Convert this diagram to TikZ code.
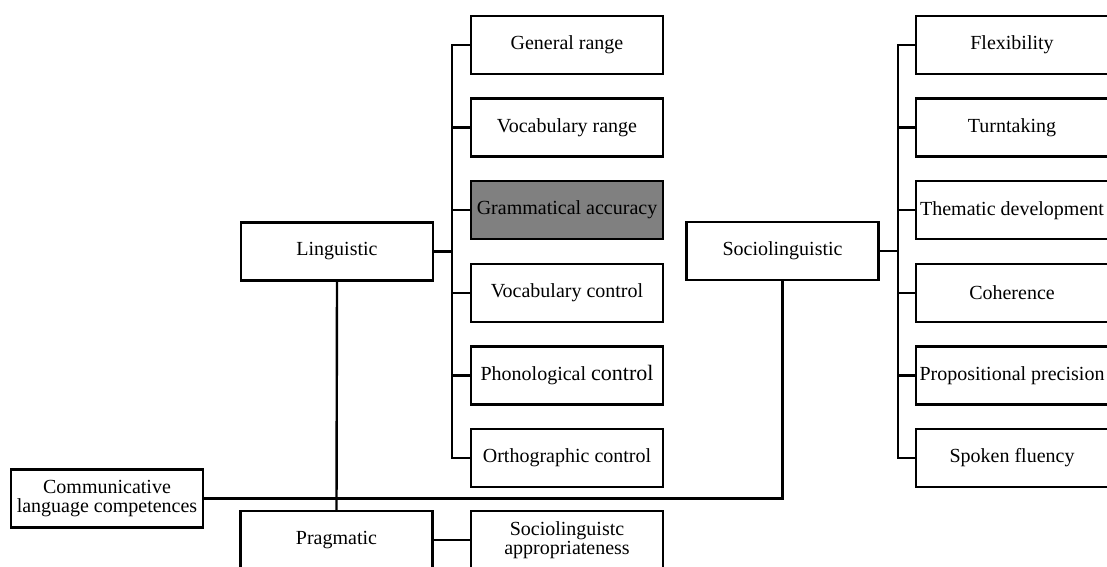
\documentclass[tikz,border=0pt]{standalone}
\usepackage{fontspec}
\setmainfont{Liberation Serif}
\definecolor{accgray}{RGB}{128,128,128}

\begin{document}
\begin{tikzpicture}[x=1pt,y=-1pt,line width=2.4pt,
  box/.style={draw,minimum width=192pt,minimum height=58pt,inner sep=0pt,align=center,
    font=\fontsize{20}{19}\selectfont}]
\useasboundingbox (0,0) rectangle (1107,566);
\clip (0,0) rectangle (1107,566);
\node[box] (ling) at (337,251.5) {Linguistic};
\node[box] (socio) at (782.5,251) {Sociolinguistic};
\node[box] (comm) at (107,498.5) {Communicative\\language competences};
\node[box] (prag) at (336.5,540) {Pragmatic};
\node[box] (appr) at (567,540) {Sociolinguistc\\appropriateness};
\foreach \t/\c [count=\i from 0] in {General range/white,Vocabulary range/white,
    Grammatical accuracy/accgray,Vocabulary control/white,
    Phonological {\fontsize{22}{19}\selectfont control}/white,Orthographic control/white}
  \node[box,fill=\c] (l\i) at (567,45+82.6*\i) {\t};
\foreach \t [count=\i from 0] in {Flexibility,Turntaking,Thematic development,
    Coherence,Propositional precision,Spoken fluency}
  \node[box] (r\i) at (1012,45+82.6*\i) {\t};
\coordinate (lbus) at (452,251.5);
\coordinate (rbus) at (898,251);
\draw (ling.east) -- (lbus);
\draw (l0.west) -| (lbus) |- (l5.west);
\draw (socio.east) -- (rbus);
\draw (r0.west) -| (rbus) |- (r5.west);
\foreach \i in {1,...,4} {
  \draw (l\i.west) -- (lbus |- l\i.west);
  \draw (r\i.west) -- (rbus |- r\i.west);
}
\draw (ling.south) -- (prag.north);
\draw (comm.east) -| (socio.south);
\draw (prag.east) -- (appr.west);
\end{tikzpicture}
\end{document}
